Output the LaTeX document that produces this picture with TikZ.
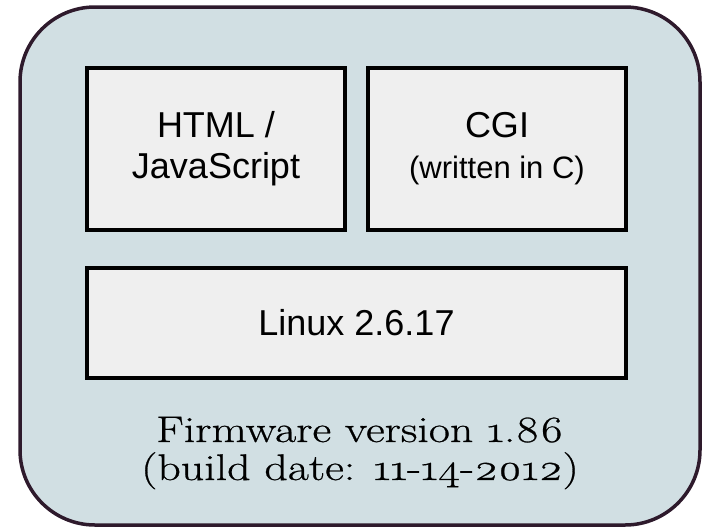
\documentclass[tikz,border=0pt]{standalone}
\usepackage{fontspec}
\setsansfont{Liberation Sans}
\newfontfamily\fwfont[Numbers=OldStyle,FakeStretch=1.24,FakeBold=0.7]{Latin Modern Roman}
\definecolor{outerfill}{HTML}{D1DFE3}
\definecolor{outerdraw}{HTML}{2E1A2C}
\definecolor{boxfill}{HTML}{EFEFEF}
\begin{document}
\begin{tikzpicture}[x=1pt,y=-1pt,
  outerbox/.style={draw=outerdraw, fill=outerfill, line width=3.5pt, rounded corners=75pt, inner sep=0pt},
  layer/.style={draw=black, fill=boxfill, line width=3.3pt, inner sep=0pt, align=center,
    font=\sffamily\fontsize{36}{41}\selectfont},
  fwlabel/.style={align=center, inner sep=0pt, font=\fwfont\fontsize{37}{38}\selectfont}]
\useasboundingbox (0,0) rectangle (706,528);
\node[outerbox, minimum width=680pt, minimum height=518pt] (fw) at (360,266) {};
\node[layer, minimum width=258pt, minimum height=162pt] (html) at (216,149) {HTML /\\JavaScript};
\node[layer, minimum width=258pt, minimum height=162pt] (cgi) at (497,149) {CGI\\{\fontsize{31}{37}\selectfont (written in C)}};
\node[layer, minimum width=539pt, minimum height=110pt] (linux) at (356.5,323) {Linux 2.6.17};
\node[fwlabel] (ver) at (360,453) {Firmware version 1.86\\(build date: 11-14-2012)};
\end{tikzpicture}
\end{document}
